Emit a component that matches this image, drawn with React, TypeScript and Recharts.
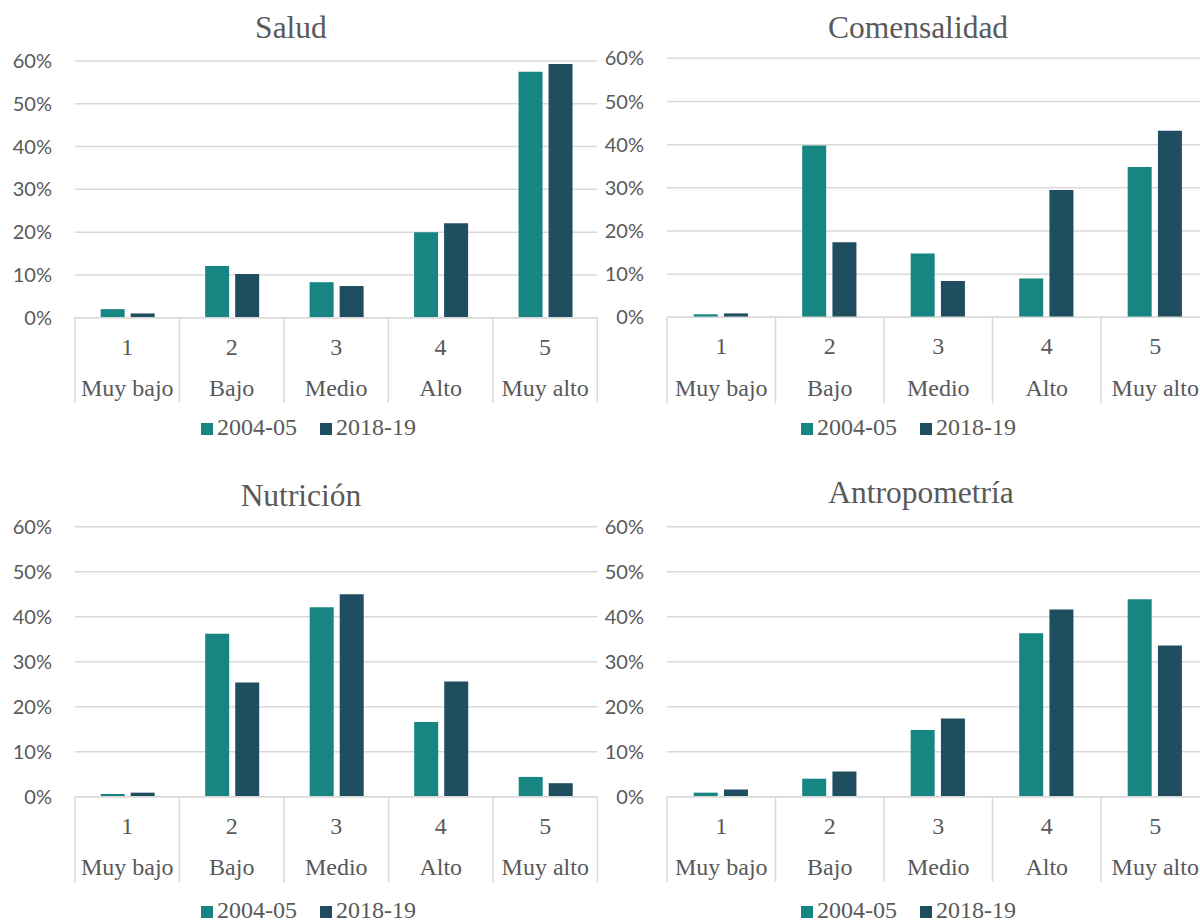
import React from 'react';
import { BarChart, Bar, XAxis, YAxis, CartesianGrid, Legend } from 'recharts';

// Categorías del índice (nivel y nombre)
const niveles = ['1', '2', '3', '4', '5'];
const nombres = ['Muy bajo', 'Bajo', 'Medio', 'Alto', 'Muy alto'];
const periodos = ['2004-05', '2018-19'];
const yTicks = [0, 10, 20, 30, 40, 50, 60];

// Porcentaje de hogares por nivel, en cada dimensión
const salud0405 = [2.0, 12.1, 8.3, 20.0, 57.5];
const salud1819 = [1.0, 10.2, 7.4, 22.1, 59.3];
const comensalidad0405 = [0.7, 39.8, 14.8, 9.0, 34.8];
const comensalidad1819 = [0.9, 17.4, 8.4, 29.5, 43.2];
const nutricion0405 = [0.6, 36.2, 42.1, 16.6, 4.4];
const nutricion1819 = [0.9, 25.4, 45.0, 25.6, 3.0];
const antropometria0405 = [0.9, 4.0, 14.8, 36.3, 43.9];
const antropometria1819 = [1.6, 5.6, 17.4, 41.6, 33.6];

const TEAL = '#178682';
const DARK = '#1F4E60';
const TEXT = '#595959';
const GRID = '#D9D9D9';
const SERIF = '"Liberation Serif", "Times New Roman", serif';
const SANS = 'Lato, "Open Sans", sans-serif';

const buildRows = (a: number[], b: number[]) =>
  niveles.map((n, i) => ({ nivel: n, nombre: nombres[i], a: a[i], b: b[i] }));

type PanelCfg = {
  title: string;
  a: number[];
  b: number[];
  left: number;
  top: number;
  width: number;
  height: number;
  margin: { top: number; right: number; bottom: number; left: number };
  axisH: number;
  legendLeft: number;
  legendTop: number;
  titleX: number;
  titleY: number;
};

const panels: PanelCfg[] = [
  {
    title: 'Salud', a: salud0405, b: salud1819,
    left: 0, top: 0, width: 600, height: 460,
    margin: { top: 61, right: 2.7, bottom: 57.3, left: 0 }, axisH: 85,
    legendLeft: 201, legendTop: 415, titleX: 291, titleY: 37.7,
  },
  {
    title: 'Comensalidad', a: comensalidad0405, b: comensalidad1819,
    left: 592, top: 0, width: 620, height: 460,
    margin: { top: 58.3, right: 2.5, bottom: 56.7, left: 0 }, axisH: 86,
    legendLeft: 209, legendTop: 415, titleX: 918, titleY: 37.7,
  },
  {
    title: 'Nutrición', a: nutricion0405, b: nutricion1819,
    left: 0, top: 470, width: 600, height: 452,
    margin: { top: 56.7, right: 2.5, bottom: 39.3, left: 0 }, axisH: 86,
    legendLeft: 201, legendTop: 428, titleX: 301, titleY: 506,
  },
  {
    title: 'Antropometría', a: antropometria0405, b: antropometria1819,
    left: 592, top: 470, width: 620, height: 452,
    margin: { top: 56.7, right: 2.5, bottom: 40.3, left: 0 }, axisH: 85,
    legendLeft: 209, legendTop: 428, titleX: 921, titleY: 503.3,
  },
];

const Y_AXIS_W = 75;

// Etiqueta de categoría en dos renglones con separadores tipo Excel
const CategoryTick = (props: any) => {
  const { x, y, payload, bw, axisH } = props;
  const idx = niveles.indexOf(String(payload.value));
  return (
    <g>
      <line x1={x - bw / 2} x2={x - bw / 2} y1={y} y2={y + axisH} stroke={GRID} strokeWidth={1.5} />
      {idx === niveles.length - 1 && (
        <line x1={x + bw / 2} x2={x + bw / 2} y1={y} y2={y + axisH} stroke={GRID} strokeWidth={1.5} />
      )}
      <text x={x} y={y + 37} textAnchor="middle" fill={TEXT} fontFamily={SERIF} fontSize={24}>
        {niveles[idx]}
      </text>
      <text x={x} y={y + 78.5} textAnchor="middle" fill={TEXT} fontFamily={SERIF} fontSize={24}>
        {nombres[idx]}
      </text>
    </g>
  );
};

const LegendBody = ({ payload }: any) => (
  <div
    style={{
      fontFamily: SERIF,
      fontSize: 24,
      lineHeight: '24px',
      color: TEXT,
      whiteSpace: 'nowrap',
      textAlign: 'left',
    }}
  >
    {(payload || []).map((e: any, i: number) => (
      <span key={i} style={{ marginLeft: i ? 23 : 0 }}>
        <span
          style={{
            display: 'inline-block',
            width: 12,
            height: 12,
            background: e.color,
            marginRight: 4,
          }}
        />
        {e.value}
      </span>
    ))}
  </div>
);

const Panel = ({ cfg }: { cfg: PanelCfg }) => {
  const data = buildRows(cfg.a, cfg.b);
  const plotW = cfg.width - cfg.margin.left - cfg.margin.right - Y_AXIS_W;
  const bw = plotW / niveles.length;
  return (
    <div style={{ position: 'absolute', left: cfg.left, top: cfg.top }}>
      <BarChart
        width={cfg.width}
        height={cfg.height}
        data={data}
        margin={cfg.margin}
        barCategoryGap="24.6%"
        barGap="5.75%"
      >
        <CartesianGrid vertical={false} stroke={GRID} strokeWidth={1.5} />
        <XAxis
          dataKey="nivel"
          interval={0}
          height={cfg.axisH}
          axisLine={{ stroke: GRID, strokeWidth: 1.5 }}
          tickLine={false}
          tickSize={0}
          tickMargin={0}
          tick={(p: any) => <CategoryTick {...p} bw={bw} axisH={cfg.axisH} />}
        />
        <YAxis
          width={Y_AXIS_W}
          domain={[0, 60]}
          ticks={yTicks}
          interval={0}
          axisLine={false}
          tickLine={false}
          tickSize={0}
          tickMargin={23}
          tickFormatter={(v: number) => `${v}%`}
          tick={{ fill: TEXT, fontFamily: SANS, fontSize: 20 }}
        />
        <Legend
          layout="horizontal"
          verticalAlign="middle"
          align="center"
          wrapperStyle={{ left: cfg.legendLeft, top: cfg.legendTop, width: 420 }}
          content={(p: any) => <LegendBody payload={p.payload} />}
        />
        <Bar dataKey="a" name={periodos[0]} fill={TEAL} isAnimationActive={false} />
        <Bar dataKey="b" name={periodos[1]} fill={DARK} isAnimationActive={false} />
      </BarChart>
    </div>
  );
};

export default function App() {
  return (
    <div
      style={{
        position: 'absolute',
        left: 0,
        top: 0,
        width: 1200,
        height: 922,
        overflow: 'hidden',
        background: '#ffffff',
      }}
    >
      {panels.map((cfg) => (
        <Panel key={cfg.title} cfg={cfg} />
      ))}
      <svg
        width={1200}
        height={922}
        style={{ position: 'absolute', left: 0, top: 0, pointerEvents: 'none' }}
      >
        {panels.map((cfg) => (
          <text
            key={cfg.title}
            x={cfg.titleX}
            y={cfg.titleY}
            textAnchor="middle"
            fill={TEXT}
            fontFamily={SERIF}
            fontSize={31.5}
          >
            {cfg.title}
          </text>
        ))}
      </svg>
    </div>
  );
}
